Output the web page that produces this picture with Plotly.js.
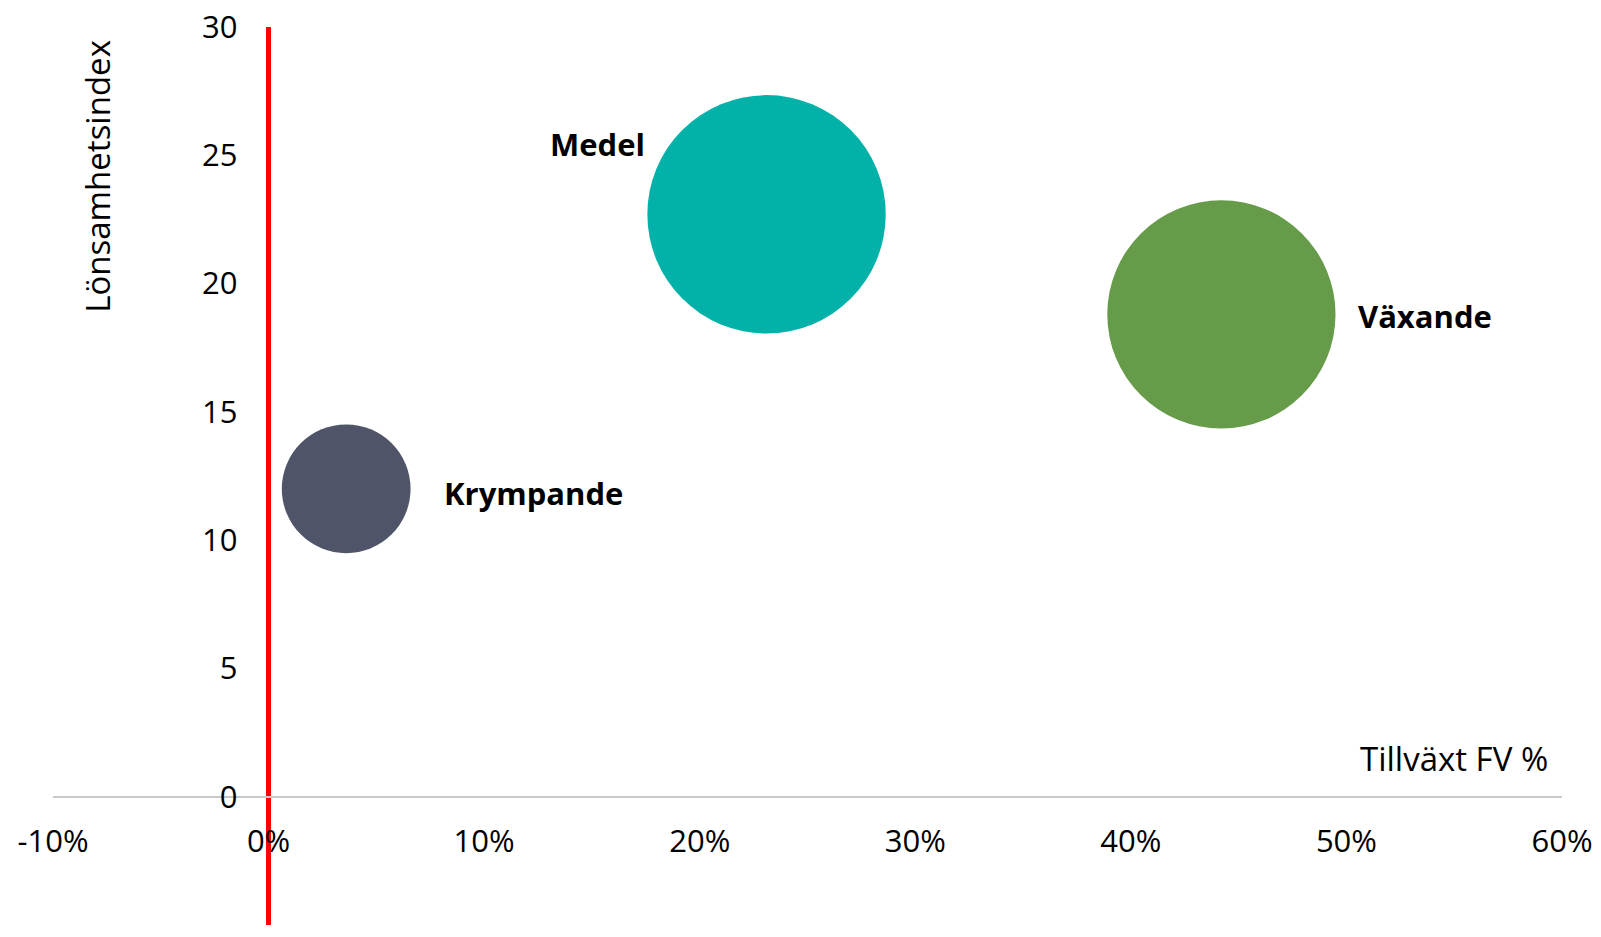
<!DOCTYPE html>
<html><head><meta charset="utf-8">
<script src="https://cdn.plot.ly/plotly-3.0.1.min.js"></script>
<style>html,body{margin:0;padding:0;background:#fff}#chart{width:1601px;height:937px}</style>
</head><body><div id="chart"></div>
<script>
// ---- data ----
const categories = ["Krympande", "Medel", "Växande"];
const growthFV = [0.036, 0.231, 0.442];          // Tillväxt FV %
const profitabilityIndex = [12.0, 22.7, 18.8];   // Lönsamhetsindex
const bubbleSize = [21, 72, 66];                 // relative bubble size
const xTickValues = [-0.1, 0, 0.1, 0.2, 0.3, 0.4, 0.5, 0.6];
const xTickLabels = ["-10%", "0%", "10%", "20%", "30%", "40%", "50%", "60%"];
const yTickValues = [-5, 0, 5, 10, 15, 20, 25, 30];
const yTickLabels = ["-5", "0", "5", "10", "15", "20", "25", "30"];
const xTitle = "Tillväxt FV %";
const yTitle = "Lönsamhetsindex";

// ---- styles ----
const bubbleColors = ["#4f5469", "#02b2a8", "#659b49"];
const labelPlacement = [
  {xanchor: "left",  xshift: 96,   yshift: -4},
  {xanchor: "right", xshift: -120, yshift: 70},
  {xanchor: "left",  xshift: 135,  yshift: -2}
];
const maxRadiusPx = 119.2;
const sizeref = Math.max(...bubbleSize) / (2 * maxRadiusPx * maxRadiusPx);

const tickFont = {family: "Open Sans, sans-serif", size: 31, color: "#000"};
const labelFont = {family: "Open Sans, sans-serif", size: 31, color: "#000", weight: "bold"};
const titleFont = {family: "Open Sans, sans-serif", size: 33, color: "#000"};

const trace = {
  type: "scatter",
  mode: "markers",
  x: growthFV,
  y: profitabilityIndex,
  text: categories,
  hoverinfo: "none",
  marker: {
    size: bubbleSize,
    sizemode: "area",
    sizeref: sizeref,
    color: bubbleColors,
    opacity: 1,
    line: {width: 0}
  },
  cliponaxis: false
};

const annotations = categories.map((c, i) => ({
  x: growthFV[i], y: profitabilityIndex[i], xref: "x", yref: "y",
  text: "<b>" + c + "</b>", showarrow: false,
  xanchor: labelPlacement[i].xanchor, yanchor: "middle",
  xshift: labelPlacement[i].xshift, yshift: labelPlacement[i].yshift,
  font: labelFont
}));
annotations.push({
  xref: "paper", yref: "paper", x: 0.029, y: 0.834,
  text: yTitle, textangle: -90, showarrow: false,
  xanchor: "center", yanchor: "middle",
  font: titleFont
});
annotations.push({
  xref: "paper", yref: "paper", x: 0.992, y: 0.185,
  text: xTitle, showarrow: false,
  xanchor: "right", yanchor: "middle",
  font: titleFont
});

const layout = {
  width: 1601, height: 937,
  margin: {l: 53, r: 39, t: 27, b: 12, pad: 0},
  paper_bgcolor: "#fff", plot_bgcolor: "#fff",
  showlegend: false,
  xaxis: {
    range: [-0.1, 0.6],
    tickvals: xTickValues, ticktext: xTickLabels,
    anchor: "free", position: 5 / 35,
    showgrid: false, showline: false,
    zeroline: true, zerolinecolor: "#ff0000", zerolinewidth: 5,
    ticks: "outside", ticklen: 17, tickcolor: "rgba(0,0,0,0)",
    tickfont: tickFont, automargin: false, fixedrange: true
  },
  yaxis: {
    range: [-5, 30],
    tickvals: yTickValues, ticktext: yTickLabels,
    anchor: "free", position: 0.1 / 0.7,
    showgrid: false, showline: false,
    zeroline: true, zerolinecolor: "#c8c8c8", zerolinewidth: 2,
    ticks: "outside", ticklen: 25, tickcolor: "rgba(0,0,0,0)",
    tickfont: tickFont, automargin: false, fixedrange: true
  },
  annotations: annotations
};

Plotly.newPlot("chart", [trace], layout, {displayModeBar: false, responsive: false, staticPlot: true});
</script>
</body></html>
